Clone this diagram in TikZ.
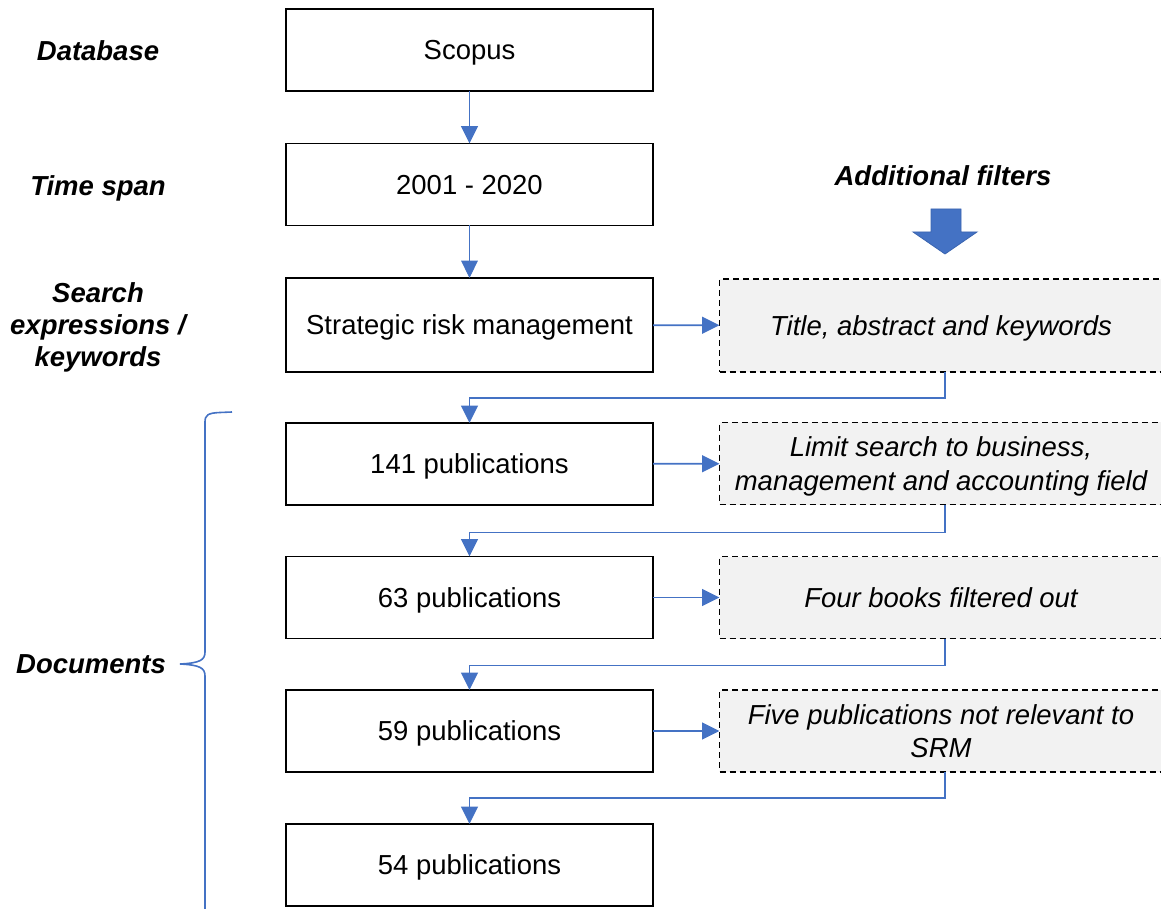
\documentclass[tikz,border=0pt]{standalone}
\usepackage{fontspec}
\setmainfont{Liberation Sans}
\usetikzlibrary{arrows.meta}
\definecolor{accent}{HTML}{4472C4}
\definecolor{accentdark}{HTML}{3A64B0}
\definecolor{filtfill}{HTML}{F2F2F2}
\newlength{\pxu}
\setlength{\pxu}{0.75pt}
\tikzset{
  every node/.style={font=\fontsize{20.6}{24}\selectfont, inner sep=0pt, outer sep=0pt, text depth=0pt},
  mainbox/.style={draw=black, line width=1pt, minimum width=367\pxu, minimum height=82\pxu, align=center},
  filtbox/.style={draw=black, dash pattern=on 4.5pt off 3pt, line width=1pt, fill=filtfill, minimum width=443\pxu, minimum height=82\pxu, align=center, font=\fontsize{20.6}{25}\selectfont\itshape},
  sidelabel/.style={align=center, font=\fontsize{20.6}{24}\selectfont\bfseries\itshape},
  conn/.style={draw=accent, line width=1.3pt, -{Triangle[length=13pt,width=12.5pt]}},
}
\begin{document}
\begin{tikzpicture}[x=0.75pt, y=-0.75pt]
\useasboundingbox (0,0) rectangle (1161,909);
% side labels
\node[sidelabel] (lDb) at (98,51) {Database};
\node[sidelabel] (lTs) at (98,186) {Time span};
\node[sidelabel] (lSe) at (98,325) {Search\\expressions /\\keywords};
\node[sidelabel] (lDoc) at (91,664) {Documents};
\node[sidelabel] (lAf) at (943,176) {Additional filters};
% main boxes
\node[mainbox] (scopus) at (469.5,50) {Scopus};
\node[mainbox] (time) at (469.5,184.5) {2001 - 2020};
\node[mainbox, minimum height=94\pxu] (srm) at (469.5,325) {Strategic risk management};
\node[mainbox] (p141) at (469.5,464) {141 publications};
\node[mainbox] (p63) at (469.5,597.5) {63 publications};
\node[mainbox] (p59) at (469.5,731) {59 publications};
\node[mainbox] (p54) at (469.5,865) {54 publications};
% filter boxes
\node[filtbox, minimum height=93\pxu] (f1) at (941,325.5) {Title, abstract and keywords};
\node[filtbox] (f2) at (941,463.5) {Limit search to business,\\management and accounting field};
\node[filtbox] (f3) at (941,597.5) {Four books filtered out};
\node[filtbox] (f4) at (941,731) {Five publications not relevant to\\SRM};
% big arrow
\draw[accentdark, fill=accent, line width=0.6pt] (931,209) -- (961,209) -- (961,232) -- (977,232) -- (945,254) -- (913,232) -- (931,232) -- cycle;
% connectors
\draw[conn] (scopus) -- (time);
\draw[conn, line width=0.7pt] (time) -- (srm);
\draw[conn] (srm) -- (f1);
\draw[conn] (p141) -- (f2);
\draw[conn] (p63) -- (f3);
\draw[conn] (p59) -- (f4);
\draw[conn] ([xshift=4\pxu]f1.south) -- ++(0,26) -| (p141.north);
\draw[conn] ([xshift=4\pxu]f2.south) -- ++(0,28) -| (p63.north);
\draw[conn] ([xshift=4\pxu]f3.south) -- ++(0,27) -| (p59.north);
\draw[conn] ([xshift=4\pxu]f4.south) -- ++(0,26) -| (p54.north);
% brace
\coordinate (bTop) at (232,412);
\coordinate (bTip) at (180,664);
\coordinate (bBot) at (205,912);
\draw[accent, line width=1.2pt] (bTop) -- (220,412.5) .. controls (208,413) and (205,415) .. (205,422)
  -- (205,652) .. controls (205,660) and (200,663) .. (bTip)
  .. controls (200,665) and (205,668) .. (205,676) -- (bBot);
\end{tikzpicture}
\end{document}
